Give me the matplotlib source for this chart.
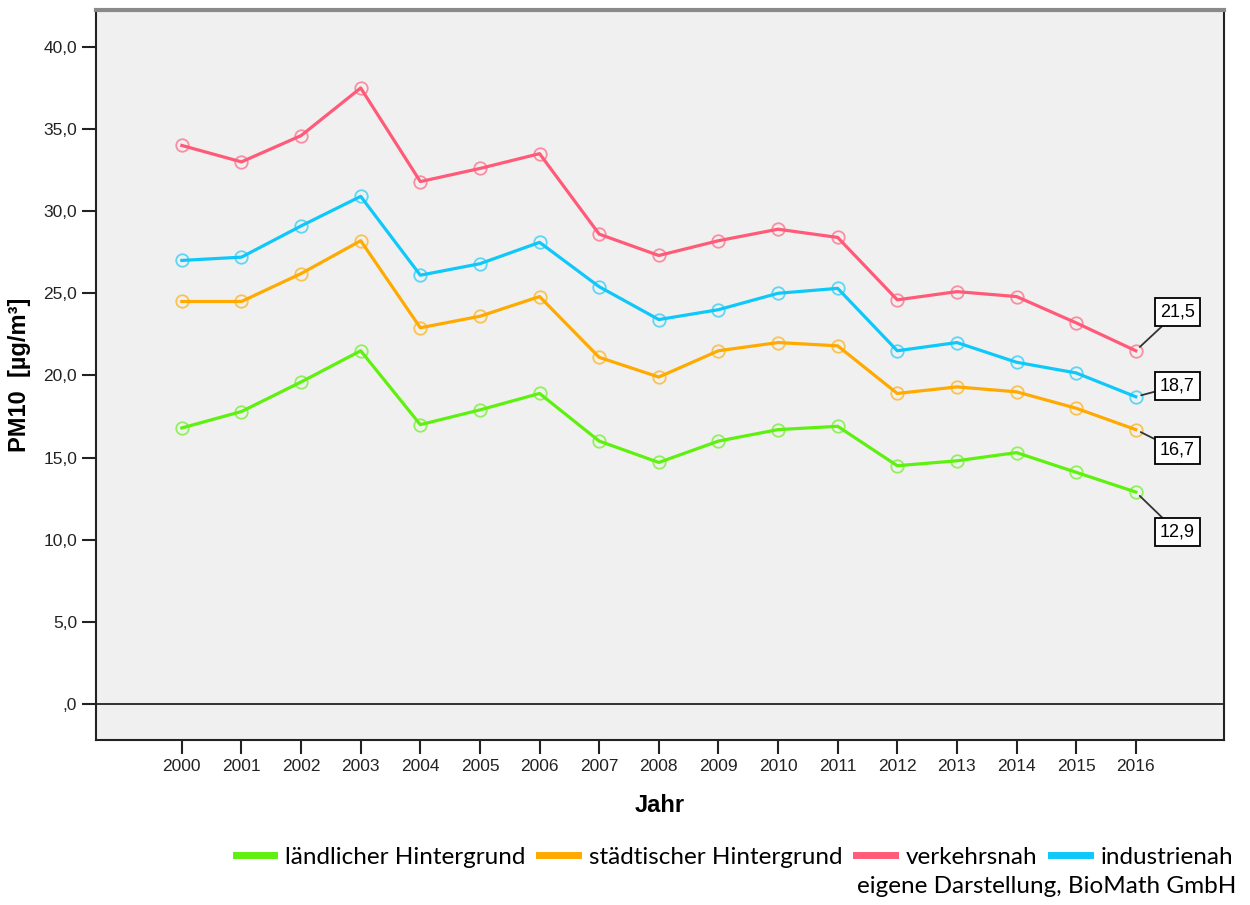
import matplotlib.pyplot as plt
from matplotlib.lines import Line2D

jahre = list(range(2000, 2017))

laendlich = [16.8, 17.8, 19.6, 21.5, 17.0, 17.9, 18.9, 16.0, 14.7, 16.0, 16.7, 16.9, 14.5, 14.8, 15.3, 14.1, 12.9]
staedtisch = [24.5, 24.5, 26.2, 28.2, 22.9, 23.6, 24.8, 21.1, 19.9, 21.5, 22.0, 21.8, 18.9, 19.3, 19.0, 18.0, 16.7]
verkehr = [34.0, 33.0, 34.6, 37.5, 31.8, 32.6, 33.5, 28.6, 27.3, 28.2, 28.9, 28.4, 24.6, 25.1, 24.8, 23.2, 21.5]
industrie = [27.0, 27.2, 29.1, 30.9, 26.1, 26.8, 28.1, 25.4, 23.4, 24.0, 25.0, 25.3, 21.5, 22.0, 20.8, 20.15, 18.7]

namen = ["ländlicher Hintergrund", "städtischer Hintergrund", "verkehrsnah", "industrienah"]
farben = ["#5ef00f", "#ffaa00", "#ff5a78", "#0fc8fa"]
# label offsets (points) for the end values
offsets = [(30, -29), (30, -15), (30, 28), (30, 8)]

plt.rcParams['font.family'] = ['Liberation Sans', 'DejaVu Sans']

fig = plt.figure(figsize=(12.5, 9.05), dpi=100)
ax = fig.add_axes([0.0768, 0.1823, 0.9024, 0.8067])
ax.set_facecolor("#f0f0f0")

serien = [laendlich, staedtisch, verkehr, industrie]
for werte, farbe, off in zip(serien, farben, offsets):
    ax.plot(jahre, werte, color=farbe, lw=2.3, zorder=3)
    ax.plot(jahre, werte, ls='none', marker='o', ms=9, mfc='none',
            mec=farbe, mew=1.3, alpha=0.65, zorder=4)
    ax.annotate(("%.1f" % werte[-1]).replace(".", ","), xy=(jahre[-1], werte[-1]),
                xytext=off, textcoords='offset points', ha='center', va='center',
                fontsize=13,
                bbox=dict(boxstyle='square,pad=0.3', fc='white', ec='black', lw=1.3),
                arrowprops=dict(arrowstyle='-', color='#333333', lw=1.3,
                                shrinkA=0, shrinkB=4), zorder=5)

ax.axhline(0, color='#222222', lw=1.3, zorder=2)

ax.set_xlim(1998.56, 2017.48)
ax.set_ylim(-2.2, 42.25)
ax.set_xticks(jahre)
ax.set_xticklabels([str(j) for j in jahre], fontsize=12.5, color='#222222')
yt = [0, 5, 10, 15, 20, 25, 30, 35, 40]
ax.set_yticks(yt)
ax.set_yticklabels([",0"] + [("%.1f" % v).replace(".", ",") for v in yt[1:]],
                   fontsize=12.5, color='#222222')
ax.tick_params(axis='both', direction='out', length=10, width=1.5, color='#222222')
ax.tick_params(axis='x', pad=4)

for s in ['left', 'bottom', 'right']:
    ax.spines[s].set_color('#222222')
    ax.spines[s].set_linewidth(1.5)
ax.spines['top'].set_color('#8a8a8a')
ax.spines['top'].set_linewidth(3)

ax.set_ylabel("PM10  [µg/m³]", fontsize=17, fontweight='bold', labelpad=9)
ax.set_xlabel("Jahr", fontsize=17, fontweight='bold', labelpad=14)

handles = [Line2D([], [], color=f, lw=5) for f in farben]
fig.legend(handles, namen, loc='center right', bbox_to_anchor=(1.004, 0.053),
           ncol=4, frameon=False, prop={'family': 'Lato', 'size': 17.5},
           handlelength=1.6, handletextpad=0.45, columnspacing=0.55)
fig.text(0.989, 0.02, "eigene Darstellung, BioMath GmbH", ha='right', va='center',
         fontsize=17.5, family='Lato')

fig.savefig("out.png", dpi=100)
